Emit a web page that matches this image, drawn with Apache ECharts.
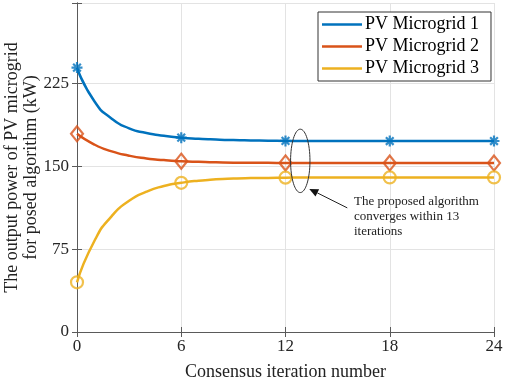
<!DOCTYPE html>
<html>
<head>
<meta charset="utf-8">
<script src="https://cdn.jsdelivr.net/npm/echarts@6/dist/echarts.min.js"></script>
<style>
  html, body { margin: 0; padding: 0; background: #fff; }
  #chart { width: 505px; height: 381px; }
</style>
</head>
<body>
<div id="chart"></div>
<script>
// consensus iterations 0..24
const iterations = [0,1,2,3,4,5,6,7,8,9,10,11,12,13,14,15,16,17,18,19,20,21,22,23,24];

// output power (kW)
const pv1 = [239.5, 209, 193.2, 184.5, 180.3, 177.7, 176, 175, 174.3, 173.8, 173.5, 173.3, 173.1,
  173, 173, 173, 173, 173, 173, 173, 173, 173, 173, 173, 173];
const pv2 = [179.5, 169.8, 163.6, 159.7, 157.2, 155.7, 154.7, 154.1, 153.7, 153.4, 153.3, 153.2, 153.1,
  153, 153, 153, 153, 153, 153, 153, 153, 153, 153, 153, 153];
const pv3 = [45, 82.4, 105, 118.8, 127.1, 132.2, 135.1, 137.1, 138.3, 139, 139.4, 139.6, 139.8,
  139.9, 140, 140, 140, 140, 140, 140, 140, 140, 140, 140, 140];

const seriesNames = ["PV Microgrid 1", "PV Microgrid 2", "PV Microgrid 3"];
const xTicks = [0, 6, 12, 18, 24];
const yTicks = [0, 75, 150, 225];

const COLORS = ["#0072BD", "#D95319", "#EDB120"];
const FONT = "'Liberation Serif', 'Times New Roman', serif";
const ASTERISK = "path://M0,-10L0,10M-10,0L10,0M-7,-7L7,7M-7,7L7,-7";

const chart = echarts.init(document.getElementById("chart"), null, { renderer: "canvas" });

const markerPoints = (values) =>
  iterations.filter((it) => xTicks.includes(it)).map((it) => [it, values[it]]);

const lineSeries = (name, values, color) => ({
  name,
  type: "line",
  data: iterations.map((it, i) => [it, values[i]]),
  showSymbol: false,
  symbol: "none",
  smooth: 0.6,
  color,
  lineStyle: { color, width: 2.5 },
  silent: true,
  z: 3,
});

const markerSeries = (values, color, symbol, size) => ({
  type: "scatter",
  data: markerPoints(values),
  symbol,
  symbolSize: size,
  itemStyle: { color: "rgba(0,0,0,0)", borderColor: color, borderWidth: 2.2 },
  silent: true,
  z: 4,
});

const tickAxisCommon = {
  axisLine: { show: true, lineStyle: { color: "#5a5a5a", width: 1 } },
  axisTick: { show: true, inside: true, length: 5, lineStyle: { color: "#5a5a5a" } },
};

const option = {
  animation: false,
  backgroundColor: "#fff",
  grid: { left: 77, right: 11, top: 3, bottom: 49, containLabel: false, outerBoundsMode: "none" },
  legend: {
    data: seriesNames,
    orient: "vertical",
    left: 318,
    top: 12,
    icon: "rect",
    itemWidth: 40,
    itemHeight: 2.5,
    itemGap: 3,
    padding: [3, 12, 3, 4],
    borderColor: "#333",
    borderWidth: 1,
    borderRadius: 0,
    backgroundColor: "#fff",
    textStyle: { fontFamily: FONT, fontSize: 18, color: "#000", lineHeight: 19, padding: [0, 0, 0, -2] },
    selectedMode: false,
  },
  xAxis: [
    {
      type: "value",
      min: 0,
      max: 24,
      interval: 6,
      name: "Consensus iteration number",
      nameLocation: "middle",
      nameGap: 31,
      nameMoveOverlap: false,
      nameTextStyle: { fontFamily: FONT, fontSize: 18, color: "#222" },
      ...tickAxisCommon,
      axisLabel: { fontFamily: FONT, fontSize: 17, color: "#262626", margin: 6 },
      splitLine: { show: true, lineStyle: { color: "#e3e3e3", width: 1 } },
    },
    {
      type: "value",
      position: "top",
      min: 0,
      max: 24,
      interval: 6,
      ...tickAxisCommon,
      axisLabel: { show: false },
      splitLine: { show: false },
    },
  ],
  yAxis: [
    {
      type: "value",
      min: 0,
      max: 298,
      interval: 75,
      name: "The output power of PV microgrid\nfor posed algorithm (kW)",
      nameLocation: "middle",
      nameGap: 36,
      nameMoveOverlap: false,
      nameRotate: 90,
      nameTextStyle: { fontFamily: FONT, fontSize: 18, color: "#222", lineHeight: 19 },
      ...tickAxisCommon,
      axisLabel: {
        fontFamily: FONT,
        fontSize: 17,
        color: "#262626",
        margin: 8,
        formatter: (v) => (yTicks.includes(v) ? String(v) : ""),
      },
      splitLine: { show: true, lineStyle: { color: "#e3e3e3", width: 1 } },
    },
    {
      type: "value",
      position: "right",
      min: 0,
      max: 298,
      interval: 75,
      ...tickAxisCommon,
      axisLabel: { show: false },
      splitLine: { show: false },
    },
  ],
  series: [
    lineSeries(seriesNames[0], pv1, COLORS[0]),
    lineSeries(seriesNames[1], pv2, COLORS[1]),
    lineSeries(seriesNames[2], pv3, COLORS[2]),
    markerSeries(pv1, COLORS[0], ASTERISK, 11),
    markerSeries(pv2, COLORS[1], "diamond", [12, 15]),
    markerSeries(pv3, COLORS[2], "circle", 12),
  ],
};

chart.setOption(option);

// annotation: ellipse around the converged points, arrow and note
const drawAnnotation = () => {
  const c = chart.convertToPixel({ gridIndex: 0 }, [12.85, 155]);
  const tail = [c[0] + 47, c[1] + 47];
  const head = [c[0] + 9, c[1] + 28];
  const ang = Math.atan2(head[1] - tail[1], head[0] - tail[0]);
  const hl = 9, hw = 4;
  const bx = head[0] - hl * Math.cos(ang), by = head[1] - hl * Math.sin(ang);
  const px = -Math.sin(ang) * hw, py = Math.cos(ang) * hw;
  chart.setOption({
    graphic: [
      {
        type: "ellipse",
        shape: { cx: c[0], cy: c[1], rx: 9.7, ry: 31.7 },
        style: { fill: "none", stroke: "#333", lineWidth: 1 },
        z: 10,
      },
      {
        type: "line",
        shape: { x1: tail[0], y1: tail[1], x2: bx, y2: by },
        style: { stroke: "#222", lineWidth: 1 },
        z: 10,
      },
      {
        type: "polygon",
        shape: { points: [head, [bx + px, by + py], [bx - px, by - py]] },
        style: { fill: "#111" },
        z: 10,
      },
      {
        type: "text",
        left: 354,
        top: 194,
        style: {
          text: "The proposed algorithm\nconverges within 13\niterations",
          font: "13px " + FONT,
          lineHeight: 15,
          fill: "#222",
        },
        z: 10,
      },
    ],
  });
};

drawAnnotation();
</script>
</body>
</html>
